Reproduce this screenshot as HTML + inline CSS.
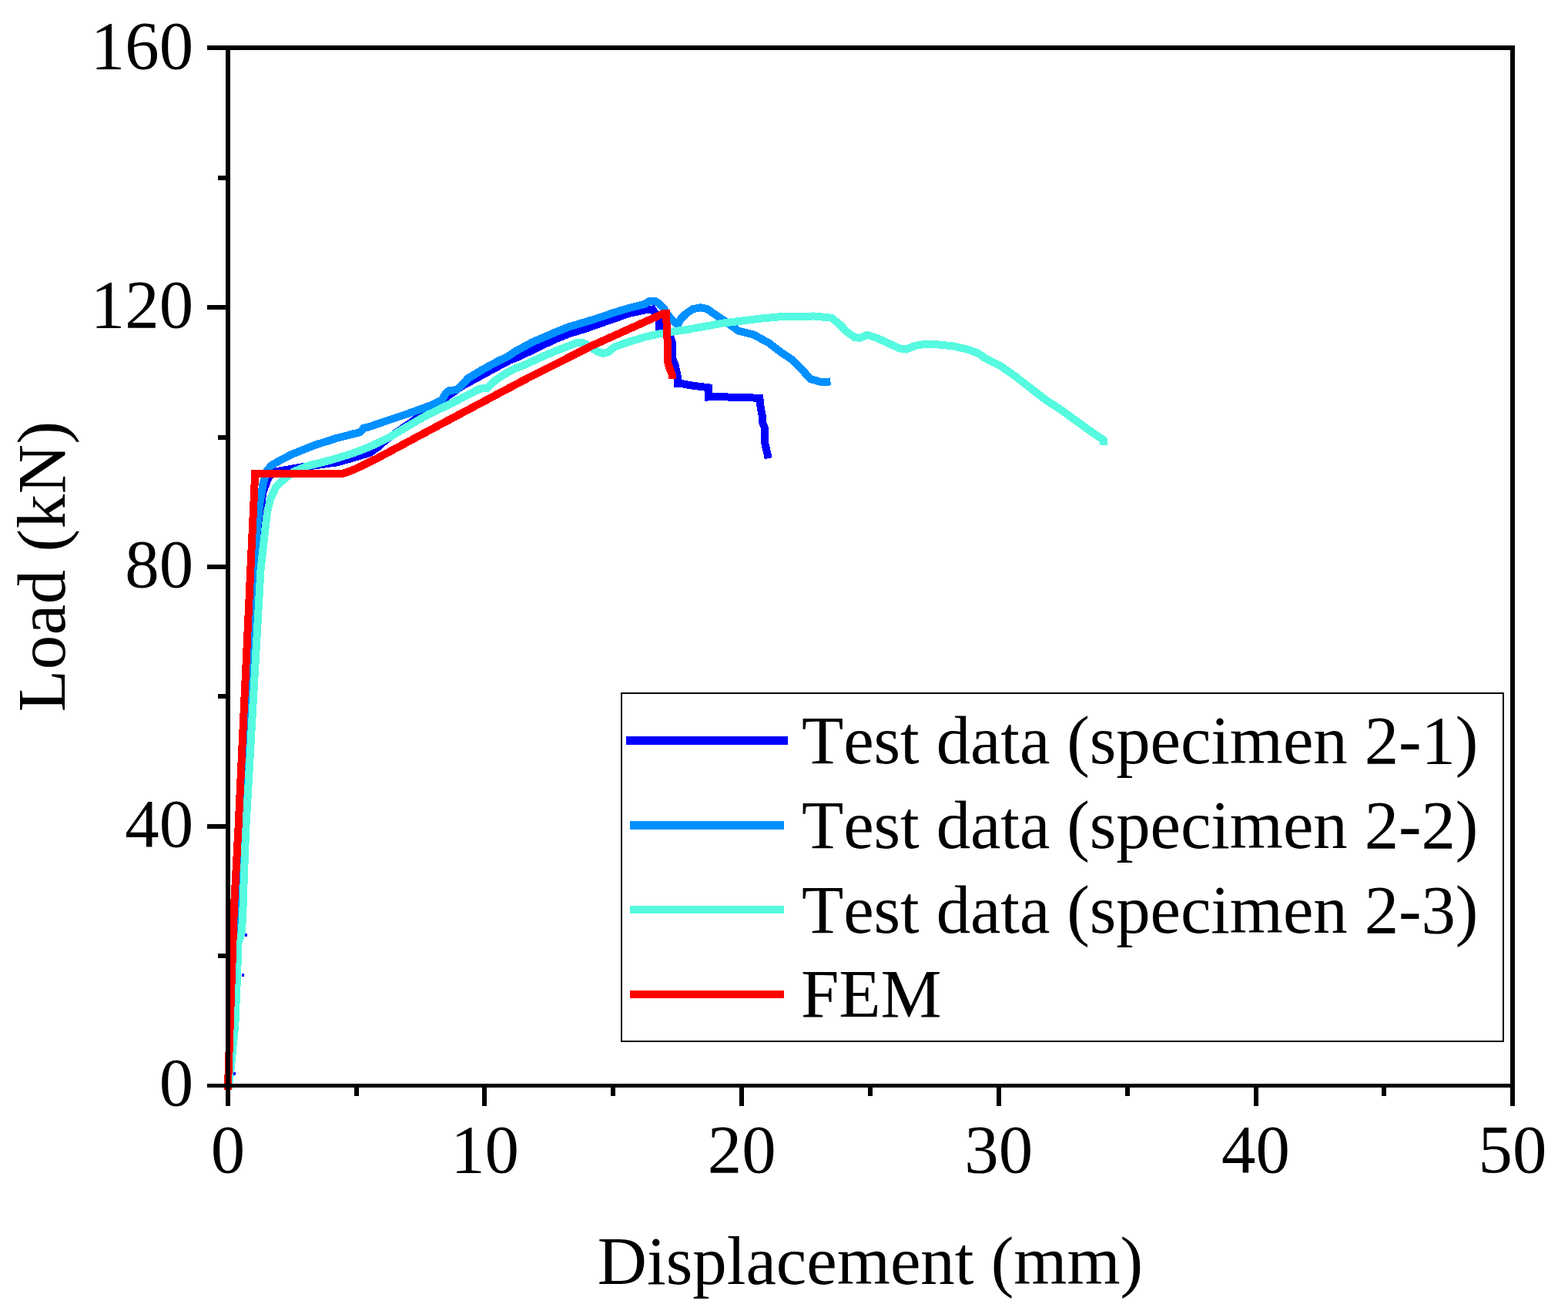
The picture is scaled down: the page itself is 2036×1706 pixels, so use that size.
<!DOCTYPE html>
<html lang="en"><head><meta charset="utf-8"><title>Load-displacement curves</title>
<style>
html,body{margin:0;padding:0;background:#fff;}
body{width:2036px;height:1706px;overflow:hidden;}
svg{display:block;}
text{font-family:"Liberation Serif", "DejaVu Serif", serif;font-size:88.9px;fill:#000;font-kerning:none;}
.ax{stroke:#000;stroke-width:6;fill:none;shape-rendering:crispEdges;}
.cv{fill:none;stroke-width:10;stroke-linejoin:miter;stroke-linecap:square;shape-rendering:crispEdges;}
</style></head><body>
<svg width="2036" height="1706" viewBox="0 0 2036 1706">
<rect x="0" y="0" width="2036" height="1706" fill="#fff"/>
<defs><clipPath id="plot"><rect x="288" y="59" width="1680" height="1356"/></clipPath>
<clipPath id="redclip"><rect x="288" y="402" width="562" height="1013"/><rect x="850" y="402" width="200" height="90"/></clipPath></defs>
<g clip-path="url(#plot)">
<polyline class="cv" stroke="#0000ff" stroke-width="11" points="296.0,1410.0 304.0,1271.0 309.0,1212.0 314.0,1075.0 322.0,900.0 331.0,760.0 337.0,680.0 341.0,641.0 347.5,622.0 353.0,615.0 358.9,612.1 396.3,605.7 413.1,603.7 437.7,600.3 457.4,594.8 470.0,591.0 480.0,588.0 490.0,581.0 502.0,570.5 539.0,544.7 563.0,527.0 602.0,500.0 617.9,491.5 637.6,480.7 662.2,467.5 670.0,464.7 699.5,450.9 719.2,441.1 738.9,433.2 758.6,427.3 778.3,420.4 798.0,413.5 817.7,406.6 837.4,402.6 847.3,401.5 852.0,408.0 855.5,416.0 856.5,429.0 863.0,433.5 870.0,437.0 873.0,445.0 873.0,465.0 876.5,473.5 879.8,489.0 880.0,498.0 884.8,498.1 899.0,500.6 920.0,503.3 920.0,515.5 938.5,515.3 978.0,516.5 986.4,517.0 987.8,530.0 989.9,540.0 989.9,548.0 993.1,556.0 993.1,575.0 995.0,583.0 996.6,590.3"/>
<polyline class="cv" stroke="#0090ff" stroke-width="11" points="296.5,1410.0 311.0,1150.0 321.0,900.0 328.0,760.0 333.7,688.0 337.0,656.0 341.6,628.3 346.0,612.0 352.0,604.5 358.9,600.3 378.6,589.9 408.2,578.1 437.7,568.7 458.0,563.5 467.3,561.4 472.0,556.0 480.0,554.0 499.7,547.1 529.2,537.3 558.8,526.5 573.5,519.6 578.5,511.2 583.4,506.8 593.2,506.3 608.0,491.0 627.7,479.2 647.4,468.5 657.3,464.0 670.0,455.8 689.7,445.0 719.2,432.2 738.9,424.3 768.5,415.5 798.0,405.6 817.7,399.7 837.4,394.8 842.0,391.5 846.3,390.6 851.0,391.0 855.1,393.8 862.0,400.7 867.0,408.8 876.8,419.6 880.7,420.5 884.0,414.0 890.0,408.0 899.0,401.5 909.7,399.3 918.0,401.0 929.4,408.9 940.0,416.0 958.9,429.6 978.6,434.5 998.3,445.3 1013.1,456.7 1027.9,466.5 1042.6,481.3 1052.5,492.1 1065.3,495.8 1073.5,495.6"/>
<polyline class="cv" stroke="#55fae0" stroke-width="11" points="297.0,1410.0 299.5,1389.3 305.3,1330.4 307.9,1271.5 309.5,1224.3 313.4,1212.5 315.0,1192.9 317.0,1134.0 319.3,1075.0 338.5,740.0 344.2,688.0 347.0,665.0 351.0,648.0 358.9,631.3 368.8,622.4 382.0,612.0 398.3,605.2 427.9,597.8 457.4,588.9 480.0,580.1 504.6,568.3 529.2,553.5 553.9,539.3 578.5,527.5 603.1,515.1 622.8,504.8 632.6,503.8 642.5,494.5 657.3,484.6 670.0,477.8 680.0,474.3 709.4,460.7 748.8,445.0 756.0,444.5 766.0,450.0 776.0,456.5 783.2,458.8 790.0,457.0 798.0,450.4 817.7,443.5 837.4,437.6 857.1,433.2 876.8,430.0 890.0,428.3 939.0,419.5 988.5,413.5 1018.0,410.8 1057.0,410.5 1079.8,412.7 1089.7,420.7 1099.5,430.6 1109.4,437.8 1116.3,438.9 1126.1,434.7 1138.9,438.9 1153.7,445.8 1168.5,452.5 1176.4,453.5 1188.2,449.0 1198.0,447.2 1217.7,447.4 1237.4,449.3 1257.1,453.9 1270.0,458.6 1279.7,465.4 1299.4,475.3 1319.1,489.1 1338.8,504.5 1358.5,519.6 1378.2,532.4 1397.9,546.7 1417.6,561.0 1429.0,568.6 1432.6,571.2 1432.6,572.6"/>
<rect x="318" y="1212" width="3" height="4" fill="#0000ff" shape-rendering="crispEdges"/>
<rect x="314" y="1264" width="3" height="4" fill="#0000ff" shape-rendering="crispEdges"/>
<rect x="302.5" y="1391.5" width="3" height="4" fill="#0000ff" shape-rendering="crispEdges"/>
<g clip-path="url(#redclip)"><polyline class="cv" stroke="#ff0000" stroke-width="10" stroke-linejoin="round" points="296.0,1410.0 304.0,1177.0 309.5,1075.0 325.3,740.0 331.2,615.0 444.5,615.0 455.0,611.6 468.0,605.8 480.0,599.8 490.0,594.9 578.5,547.6 680.0,493.7 768.5,448.9 858.6,408.3 865.3,405.2 865.6,425.0 866.5,440.0 866.5,465.0 868.0,474.0 871.0,482.0 873.0,488.0 873.0,496.0"/>
<polyline class="cv" stroke="#ff0000" stroke-width="10" points="858.6,408.3 865.3,405.2 865.6,425.0"/></g>
</g>
<g fill="#000" shape-rendering="crispEdges">
<rect x="293" y="59" width="6" height="1353"/>
<rect x="1961" y="59" width="6" height="1353"/>
<rect x="293" y="59" width="1674" height="6"/>
<rect x="293" y="1407" width="1674" height="5"/>
<rect x="293" y="1412" width="6" height="24"/>
<rect x="460" y="1412" width="6" height="11"/>
<rect x="626" y="1412" width="6" height="24"/>
<rect x="793" y="1412" width="6" height="11"/>
<rect x="960" y="1412" width="6" height="24"/>
<rect x="1127" y="1412" width="6" height="11"/>
<rect x="1294" y="1412" width="6" height="24"/>
<rect x="1461" y="1412" width="6" height="11"/>
<rect x="1628" y="1412" width="6" height="24"/>
<rect x="1794" y="1412" width="6" height="11"/>
<rect x="1961" y="1412" width="6" height="24"/>
<rect x="269" y="1407" width="24" height="5"/>
<rect x="283" y="1238" width="10" height="6"/>
<rect x="269" y="1070" width="24" height="6"/>
<rect x="283" y="901" width="10" height="6"/>
<rect x="269" y="733" width="24" height="6"/>
<rect x="283" y="565" width="10" height="6"/>
<rect x="269" y="396" width="24" height="6"/>
<rect x="283" y="228" width="10" height="6"/>
<rect x="269" y="59" width="24" height="6"/>
</g>
<text x="296.0" y="1522" text-anchor="middle">0</text>
<text x="629.6" y="1522" text-anchor="middle">10</text>
<text x="963.2" y="1522" text-anchor="middle">20</text>
<text x="1296.8" y="1522" text-anchor="middle">30</text>
<text x="1630.4" y="1522" text-anchor="middle">40</text>
<text x="1964.0" y="1522" text-anchor="middle">50</text>
<text x="251.2" y="1435.1" text-anchor="end">0</text>
<text x="251.2" y="1098.5" text-anchor="end">40</text>
<text x="251.2" y="761.9" text-anchor="end">80</text>
<text x="251.2" y="425.3" text-anchor="end">120</text>
<text x="251.2" y="88.7" text-anchor="end">160</text>
<text x="1130" y="1666.5" text-anchor="middle">Displacement (mm)</text>
<text transform="translate(84.4,735.3) rotate(-90)" text-anchor="middle" style="letter-spacing:0.55px">Load (kN)</text>
<rect x="807" y="900" width="1145" height="452" fill="#fff" stroke="#000" stroke-width="2" shape-rendering="crispEdges"/>
<rect x="813" y="956" width="210" height="11" fill="#0000ff" shape-rendering="crispEdges"/>
<text x="1041" y="991.0" style="letter-spacing:-0.12px">Test data (specimen 2-1)</text>
<rect x="818" y="1066" width="200" height="11" fill="#0090ff" shape-rendering="crispEdges"/>
<text x="1041" y="1100.7" style="letter-spacing:-0.12px">Test data (specimen 2-2)</text>
<rect x="818" y="1176" width="200" height="10" fill="#55fae0" shape-rendering="crispEdges"/>
<text x="1041" y="1210.5" style="letter-spacing:-0.12px">Test data (specimen 2-3)</text>
<rect x="818" y="1286" width="200" height="10" fill="#ff0000" shape-rendering="crispEdges"/>
<text x="1040" y="1320.2" style="letter-spacing:-0.12px">FEM</text>
</svg>
</body></html>
